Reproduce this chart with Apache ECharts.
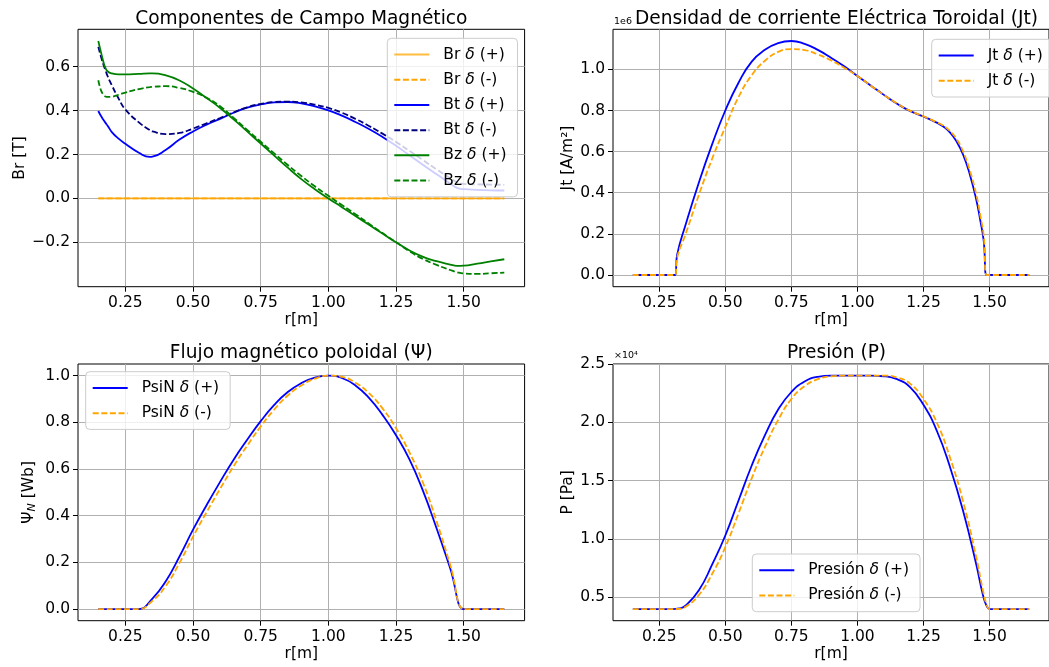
<!DOCTYPE html>
<html><head><meta charset="utf-8">
<script src="https://cdn.jsdelivr.net/npm/echarts@6/dist/echarts.min.js"></script>
<style>html,body{margin:0;padding:0;background:#fff;}#c{width:1049px;height:667px;}</style>
</head><body><div id="c"></div>
<script>
// ---------- data ----------
const xTicks = [0.25, 0.5, 0.75, 1.0, 1.25, 1.5];

// Panel 1: magnetic field components [T]
const rBr = [0.15, 1.65];
const brPlus = [0, 0];
const brMinus = [0, 0];
const rB = [0.15, 0.16, 0.17, 0.176, 0.185, 0.2, 0.225, 0.25, 0.3, 0.34, 0.35, 0.4, 0.45, 0.5, 0.55, 0.6, 0.65, 0.7, 0.75, 0.8, 0.85, 0.9, 0.95, 1.0, 1.05, 1.1, 1.15, 1.2, 1.25, 1.3, 1.35, 1.4, 1.45, 1.475, 1.5, 1.55, 1.6, 1.65];
const btPlus = [0.398, 0.375, 0.356, 0.345, 0.330, 0.302, 0.272, 0.249, 0.208, 0.189, 0.190, 0.222, 0.268, 0.305, 0.336, 0.362, 0.390, 0.413, 0.428, 0.437, 0.439, 0.433, 0.419, 0.401, 0.377, 0.348, 0.316, 0.280, 0.240, 0.196, 0.152, 0.110, 0.068, 0.048, 0.042, 0.039, 0.037, 0.036];
const btMinus = [0.690, 0.645, 0.605, 0.585, 0.555, 0.515, 0.455, 0.405, 0.346, 0.311, 0.305, 0.293, 0.298, 0.318, 0.342, 0.366, 0.392, 0.415, 0.430, 0.439, 0.441, 0.437, 0.427, 0.412, 0.390, 0.362, 0.330, 0.295, 0.257, 0.216, 0.174, 0.132, 0.092, 0.074, 0.066, 0.064, 0.063, 0.062];
const bzPlus = [0.717, 0.665, 0.617, 0.595, 0.578, 0.569, 0.565, 0.565, 0.567, 0.569, 0.569, 0.560, 0.537, 0.500, 0.457, 0.412, 0.360, 0.305, 0.250, 0.195, 0.140, 0.088, 0.042, 0.000, -0.040, -0.080, -0.120, -0.160, -0.200, -0.237, -0.266, -0.286, -0.301, -0.307, -0.306, -0.297, -0.287, -0.277];
const bzMinus = [0.538, 0.492, 0.470, 0.464, 0.462, 0.463, 0.472, 0.482, 0.498, 0.507, 0.508, 0.511, 0.503, 0.485, 0.458, 0.420, 0.367, 0.312, 0.258, 0.205, 0.152, 0.102, 0.055, 0.012, -0.030, -0.072, -0.115, -0.158, -0.200, -0.241, -0.276, -0.303, -0.326, -0.336, -0.342, -0.344, -0.341, -0.338];

// Panel 2: toroidal current density [x1e6 A/m^2]
const rJ = [0.15, 0.30, 0.31, 0.318, 0.35, 0.4, 0.45, 0.5, 0.55, 0.6, 0.65, 0.7, 0.75, 0.8, 0.85, 0.9, 0.95, 1.0, 1.05, 1.1, 1.15, 1.2, 1.25, 1.3, 1.325, 1.35, 1.375, 1.4, 1.425, 1.45, 1.465, 1.478, 1.489, 1.5, 1.65];
const jtPlus = [0, 0, 0, 0.10, 0.245, 0.45, 0.635, 0.80, 0.935, 1.038, 1.095, 1.128, 1.138, 1.124, 1.095, 1.057, 1.015, 0.968, 0.922, 0.876, 0.833, 0.797, 0.771, 0.741, 0.722, 0.694, 0.650, 0.585, 0.49, 0.365, 0.265, 0.165, 0, 0, 0];
const jtMinus = [0, 0, 0, 0.085, 0.20, 0.39, 0.565, 0.719, 0.865, 0.972, 1.042, 1.085, 1.099, 1.094, 1.073, 1.044, 1.008, 0.968, 0.922, 0.876, 0.834, 0.798, 0.772, 0.743, 0.726, 0.700, 0.662, 0.600, 0.51, 0.39, 0.29, 0.19, 0, 0, 0];

// Panel 3: normalised poloidal flux
const rPsi = [0.15, 0.29, 0.3, 0.35, 0.4, 0.45, 0.5, 0.55, 0.6, 0.65, 0.7, 0.75, 0.8, 0.85, 0.9, 0.95, 1.0, 1.05, 1.1, 1.15, 1.2, 1.25, 1.3, 1.35, 1.4, 1.45, 1.5, 1.51, 1.65];
const psiPlus = [0, 0, 0, 0.045, 0.12, 0.225, 0.34, 0.445, 0.545, 0.64, 0.725, 0.805, 0.875, 0.93, 0.968, 0.992, 1.0, 0.99, 0.958, 0.905, 0.832, 0.745, 0.64, 0.505, 0.345, 0.175, 0, 0, 0];
const psiMinus = [0, 0, 0, 0.035, 0.10, 0.198, 0.31, 0.415, 0.515, 0.612, 0.70, 0.782, 0.855, 0.915, 0.958, 0.987, 1.0, 0.995, 0.97, 0.925, 0.86, 0.775, 0.67, 0.54, 0.375, 0.19, 0, 0, 0];

// Panel 4: pressure [x1e4 Pa]
const rP = [0.15, 0.29, 0.3, 0.325, 0.35, 0.4, 0.45, 0.5, 0.55, 0.6, 0.65, 0.7, 0.75, 0.8, 0.85, 0.9, 0.95, 1.0, 1.05, 1.1, 1.15, 1.2, 1.25, 1.3, 1.35, 1.4, 1.45, 1.475, 1.49, 1.5, 1.51, 1.65];
const pPlus = [0.4, 0.4, 0.4, 0.405, 0.43, 0.56, 0.78, 1.03, 1.33, 1.63, 1.89, 2.11, 2.26, 2.35, 2.39, 2.40, 2.40, 2.40, 2.40, 2.395, 2.37, 2.30, 2.15, 1.93, 1.62, 1.24, 0.78, 0.52, 0.42, 0.40, 0.40, 0.40];
const pMinus = [0.4, 0.4, 0.4, 0.402, 0.42, 0.52, 0.70, 0.93, 1.22, 1.52, 1.79, 2.02, 2.20, 2.31, 2.37, 2.395, 2.40, 2.40, 2.40, 2.40, 2.385, 2.33, 2.20, 2.00, 1.70, 1.32, 0.84, 0.56, 0.43, 0.40, 0.40, 0.40];

const titles = ['Componentes de Campo Magnético', 'Densidad de corriente Eléctrica Toroidal (Jt)', 'Flujo magnético poloidal (Ψ)', 'Presión (P)'];
const yTicks1 = [-0.2, 0.0, 0.2, 0.4, 0.6];
const yTicks2 = [0.0, 0.2, 0.4, 0.6, 0.8, 1.0];
const yTicks3 = [0.0, 0.2, 0.4, 0.6, 0.8, 1.0];
const yTicks4 = [0.5, 1.0, 1.5, 2.0, 2.5];

// ---------- chart ----------
const F = 'DejaVu Sans';
const FS = 15.5;
const pairs = (r, v) => r.map((x, i) => [x, v[i]]);
const fmtY = v => (v < 0 ? '\u2212' : '') + Math.abs(v).toFixed(1);

const grids = [
  {left: 78, top: 29.3, width: 446.6, height: 257.4},
  {left: 613, top: 29.3, width: 447, height: 257.4},
  {left: 78, top: 364, width: 446.6, height: 256.7},
  {left: 613, top: 364, width: 447, height: 256.7}
].map(g => Object.assign(g, {show: true, borderColor: '#000', borderWidth: 1, backgroundColor: 'transparent'}));

function xAxis(gi) {
  return {
    type: 'value', gridIndex: gi, min: 0.075, max: 1.725,
    name: 'r[m]', nameLocation: 'middle', nameGap: 24,
    nameTextStyle: {fontSize: FS, color: '#000', fontFamily: F},
    axisLine: {show: false, onZero: false},
    axisTick: {show: true, length: 5, customValues: xTicks, lineStyle: {color: '#000', width: 1}},
    axisLabel: {customValues: xTicks, formatter: v => v.toFixed(2), fontSize: FS, color: '#000', fontFamily: F, margin: 8},
    splitLine: {show: true, lineStyle: {color: '#b0b0b0', width: 1}}
  };
}
function yAxis(gi, min, max, ticks, name, gap, rich) {
  return {
    type: 'value', gridIndex: gi, min: min, max: max,
    name: name, nameLocation: 'middle', nameGap: gap, nameRotate: 90,
    nameTextStyle: {fontSize: FS, color: '#000', fontFamily: F, rich: rich || {}},
    axisLine: {show: false, onZero: false},
    axisTick: {show: true, length: 5, customValues: ticks, lineStyle: {color: '#000', width: 1}},
    axisLabel: {customValues: ticks, formatter: fmtY, fontSize: FS, color: '#000', fontFamily: F, margin: 8},
    splitLine: {show: true, lineStyle: {color: '#b0b0b0', width: 1}}
  };
}

function line(name, r, v, xi, color, dashed, opacity) {
  const op = opacity == null ? 1 : opacity;
  return {
    type: 'line', name: name, xAxisIndex: xi, yAxisIndex: xi,
    data: pairs(r, v), showSymbol: false, symbol: 'none', smooth: 0.5,
    lineStyle: {color: color, width: 1.8, type: dashed ? [6, 2.6] : 'solid', opacity: op},
    itemStyle: {color: color, opacity: op},
    emphasis: {disabled: true}, animation: false, z: 3
  };
}

const legendBase = {
  orient: 'vertical', padding: [7.25, 11, 7.25, 6], itemGap: 7.2, itemWidth: 35, itemHeight: 18,
  backgroundColor: 'rgba(255,255,255,0.8)', borderColor: '#cccccc', borderWidth: 1, borderRadius: 4,
  selectedMode: false,
  itemStyle: {opacity: 0, borderWidth: 0},
  textStyle: {fontSize: FS, fontFamily: F, color: '#000', lineHeight: 18,
    rich: {i: {fontStyle: 'italic', fontSize: FS, fontFamily: F, color: '#000', lineHeight: 18}, g: {width: 9, lineHeight: 18}}},
  formatter: n => '{g| }' + n.replace('δ', '{i|δ}')
};

const ORANGE = '#FFA500', BLUE = '#0000FF', NAVY = '#000080', GREEN = '#008000';

const option = {
  backgroundColor: '#fff',
  animation: false,
  title: titles.map((t, i) => ({
    text: t, left: [301.3, 836.5, 301.3, 836.5][i], top: [19, 19, 353, 353][i],
    textAlign: 'center', textVerticalAlign: 'middle', padding: 0,
    textStyle: {fontSize: 18.6, fontWeight: 'normal', color: '#000', fontFamily: F}
  })),
  grid: grids,
  xAxis: [0, 1, 2, 3].map(xAxis),
  yAxis: [
    yAxis(0, -0.402, 0.770, yTicks1, 'Br [T]', 50),
    yAxis(1, -0.057, 1.195, yTicks2, 'Jt [A/m²]', 37),
    yAxis(2, -0.05, 1.05, yTicks3, 'Ψ{s|N} [Wb]', 40, {s: {fontSize: 11, fontStyle: 'italic', fontFamily: F, color: '#000', padding: [7, 0, 0, 0]}}),
    yAxis(3, 0.3, 2.5, yTicks4, 'P [Pa]', 37)
  ],
  legend: [
    Object.assign({}, legendBase, {left: 387.3, top: 38.3, data: ['Br δ (+)', 'Br δ (-)', 'Bt δ (+)', 'Bt δ (-)', 'Bz δ (+)', 'Bz δ (-)']}),
    Object.assign({}, legendBase, {left: 931.7, top: 39.3, padding: [7.25, 24, 7.25, 6], data: ['Jt δ (+)', 'Jt δ (-)']}),
    Object.assign({}, legendBase, {left: 85.7, top: 371.7, data: ['PsiN δ (+)', 'PsiN δ (-)']}),
    Object.assign({}, legendBase, {left: 752.3, top: 554, data: ['Presión δ (+)', 'Presión δ (-)']})
  ],
  graphic: [
    {type: 'text', x: 614, y: 27, style: {text: '1e6', fontSize: 9.5, fontFamily: F, fill: '#000', verticalAlign: 'bottom', textVerticalAlign: 'bottom'}},
    {type: 'text', x: 614, y: 361, style: {text: '×10⁴', fontSize: 9.5, fontFamily: F, fill: '#000', verticalAlign: 'bottom', textVerticalAlign: 'bottom'}}
  ],
  series: [
    line('Br δ (+)', rBr, brPlus, 0, ORANGE, false, 0.75),
    line('Br δ (-)', rBr, brMinus, 0, ORANGE, true),
    line('Bt δ (+)', rB, btPlus, 0, BLUE, false),
    line('Bt δ (-)', rB, btMinus, 0, NAVY, true),
    line('Bz δ (+)', rB, bzPlus, 0, GREEN, false),
    line('Bz δ (-)', rB, bzMinus, 0, GREEN, true),
    line('Jt δ (+)', rJ, jtPlus, 1, BLUE, false),
    line('Jt δ (-)', rJ, jtMinus, 1, ORANGE, true),
    line('PsiN δ (+)', rPsi, psiPlus, 2, BLUE, false),
    line('PsiN δ (-)', rPsi, psiMinus, 2, ORANGE, true),
    line('Presión δ (+)', rP, pPlus, 3, BLUE, false),
    line('Presión δ (-)', rP, pMinus, 3, ORANGE, true)
  ]
};

const chart = echarts.init(document.getElementById('c'), null, {renderer: 'canvas'});
chart.setOption(option);
</script>
</body></html>
